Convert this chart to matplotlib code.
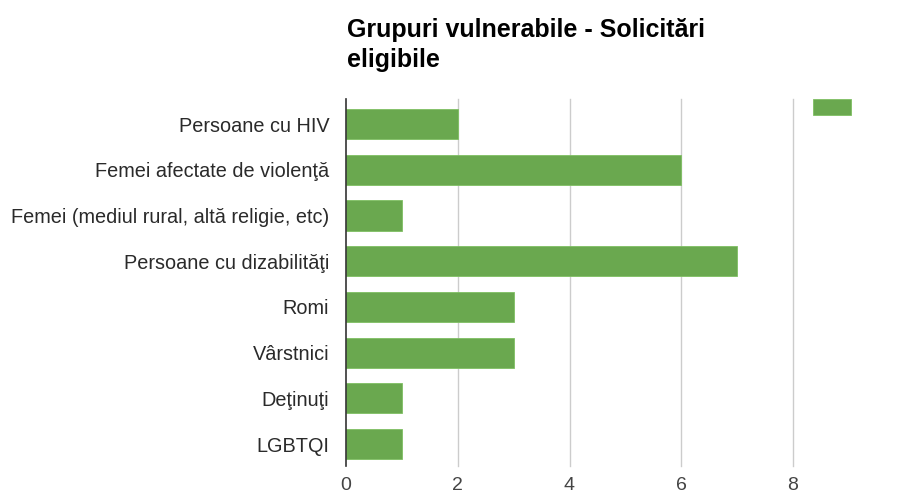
import matplotlib.pyplot as plt

plt.rcParams['font.family'] = ['Liberation Sans', 'DejaVu Sans']

categorii = ['Persoane cu HIV', 'Femei afectate de violenţă',
             'Femei (mediul rural, altă religie, etc)', 'Persoane cu dizabilităţi',
             'Romi', 'Vârstnici', 'Deţinuţi', 'LGBTQI']
valori = [2, 6, 1, 7, 3, 3, 1, 1]
x_ticks = [0, 2, 4, 6, 8]

verde = '#6aa84f'

fig = plt.figure(figsize=(9.23, 4.94), dpi=100)
ax = fig.add_axes([346 / 923, 1 - 466 / 494, (793 - 346) / 923, (466 - 99) / 494])

poz = list(range(len(categorii)))
bare = ax.barh(poz, valori, height=0.66, color=verde, edgecolor='#7fbf63', linewidth=0.6, zorder=3)

ax.set_ylim(len(categorii) - 0.52, -0.55)
ax.set_xlim(0, 8)
ax.set_yticks(poz)
ax.set_yticklabels(categorii, fontsize=14.3, color='#2a2a2a')
ax.set_xticks(x_ticks)
ax.set_xticklabels([str(t) for t in x_ticks], fontsize=14, color='#444444')
ax.tick_params(axis='both', length=0)
ax.tick_params(axis='y', pad=12)
ax.tick_params(axis='x', pad=8)

for s in ['top', 'right', 'bottom']:
    ax.spines[s].set_visible(False)
ax.spines['left'].set_color('#333333')
ax.spines['left'].set_linewidth(1.2)
ax.spines['left'].set_zorder(4)

for t in x_ticks[1:]:
    ax.axvline(t, color='#cccccc', linewidth=1, zorder=1, clip_on=False)

fig.text(347 / 923, 1 - 67 / 494, 'Grupuri vulnerabile - Solicitări\neligibile',
         fontsize=18, fontweight='bold', color='#000000', ha='left', va='baseline',
         linespacing=1.32)

fig.legend([bare], [''], loc='upper left', bbox_to_anchor=(813 / 923, 1 - 99 / 494),
           frameon=False, fontsize=11, handlelength=2.5, handleheight=1.2,
           borderpad=0, borderaxespad=0, handletextpad=0)

fig.savefig('out.png', dpi=100)
